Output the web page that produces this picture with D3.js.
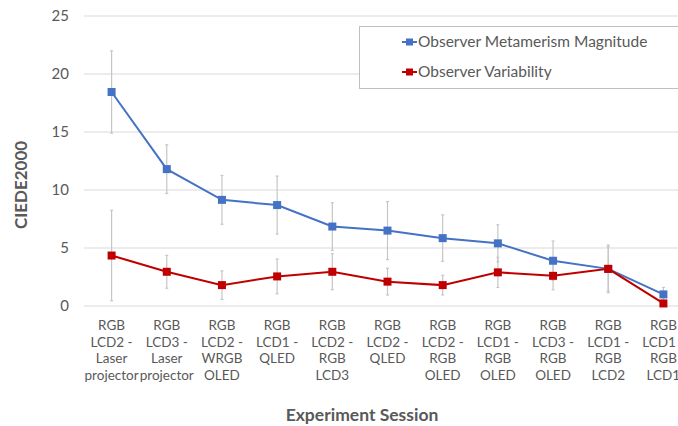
<!DOCTYPE html>
<html><head><meta charset="utf-8">
<script src="https://cdn.jsdelivr.net/npm/d3@7"></script>
<style>body{margin:0;background:#fff}svg{display:block}</style>
</head><body><svg id="c" width="678" height="426"></svg>
<script>
const categories = [
  ["RGB","LCD2 -","Laser","projector"],
  ["RGB","LCD3 -","Laser","projector"],
  ["RGB","LCD2 -","WRGB","OLED"],
  ["RGB","LCD1 -","QLED"],
  ["RGB","LCD2 -","RGB","LCD3"],
  ["RGB","LCD2 -","QLED"],
  ["RGB","LCD2 -","RGB","OLED"],
  ["RGB","LCD1 -","RGB","OLED"],
  ["RGB","LCD3 -","RGB","OLED"],
  ["RGB","LCD1 -","RGB","LCD2"],
  ["RGB","LCD1 -","RGB","LCD1"]
];
const metamerism = [18.45, 11.8, 9.15, 8.7, 6.85, 6.5, 5.85, 5.4, 3.9, 3.2, 1.0];
const metamerismErr = [3.55, 2.1, 2.1, 2.5, 2.05, 2.5, 2.0, 1.6, 1.7, 2.05, 0.6];
const variability = [4.35, 2.95, 1.8, 2.55, 2.95, 2.1, 1.8, 2.9, 2.6, 3.2, 0.22];
const variabilityErr = [3.9, 1.42, 1.23, 1.5, 1.55, 1.15, 0.85, 1.3, 1.2, 1.9, 0.2];
const yTicks = [0, 5, 10, 15, 20, 25];
const seriesNames = ["Observer Metamerism Magnitude", "Observer Variability"];
const colors = ["#4472c4", "#c00000"];

const svg = d3.select("#c");
const x = d3.scaleBand().domain(d3.range(categories.length)).range([84, 691]);
const y = d3.scaleLinear().domain([0, 25]).range([306, 16]);
const cx = i => x(i) + x.bandwidth() / 2;
const font = "Lato, 'Liberation Sans', sans-serif";
const textCol = "#595959";

// gridlines
svg.append("g").selectAll("line").data(yTicks).join("line")
  .attr("x1", 84).attr("x2", 678)
  .attr("y1", d => y(d)).attr("y2", d => y(d))
  .attr("stroke", "#d9d9d9").attr("stroke-width", 1);

// y tick labels
svg.append("g").selectAll("text").data(yTicks).join("text")
  .attr("x", 69).attr("y", d => y(d)).attr("dy", "0.35em")
  .attr("text-anchor", "end").attr("font-family", font).attr("font-size", 15)
  .attr("fill", textCol).text(d => d);

// y title
svg.append("text").attr("transform", "translate(27,185) rotate(-90)")
  .attr("text-anchor", "middle").attr("font-family", font).attr("font-size", 17)
  .attr("font-weight", "bold").attr("fill", textCol).text("CIEDE2000");

// x labels
const xl = svg.append("g").selectAll("text").data(categories).join("text")
  .attr("x", (d, i) => cx(i)).attr("y", 330)
  .attr("text-anchor", "middle").attr("font-family", font).attr("font-size", 13.5)
  .attr("fill", textCol);
xl.selectAll("tspan").data(d => d).join("tspan")
  .attr("x", function () { return d3.select(this.parentNode).attr("x"); })
  .attr("dy", (d, j) => j === 0 ? 0 : 16.6).text(d => d);

// x title
svg.append("text").attr("x", 362).attr("y", 421)
  .attr("text-anchor", "middle").attr("font-family", font).attr("font-size", 17.5)
  .attr("font-weight", "bold").attr("fill", textCol).text("Experiment Session");

// error bars
const errs = [[metamerism, metamerismErr], [variability, variabilityErr]];
errs.forEach(([vals, e]) => {
  const g = svg.append("g").attr("stroke", "#c6c6c6").attr("stroke-width", 1.2);
  vals.forEach((v, i) => {
    const t = y(v + e[i]), b = y(Math.max(0, v - e[i]));
    g.append("line").attr("x1", cx(i)).attr("x2", cx(i)).attr("y1", t).attr("y2", b);
    g.append("line").attr("x1", cx(i) - 1.5).attr("x2", cx(i) + 1.5).attr("y1", t).attr("y2", t);
    g.append("line").attr("x1", cx(i) - 1.5).attr("x2", cx(i) + 1.5).attr("y1", b).attr("y2", b);
  });
});

// lines & markers
const line = d3.line().x((d, i) => cx(i)).y(d => y(d));
[metamerism, variability].forEach((vals, k) => {
  svg.append("path").datum(vals).attr("d", line).attr("fill", "none")
    .attr("stroke", colors[k]).attr("stroke-width", 2);
  svg.append("g").selectAll("rect").data(vals).join("rect")
    .attr("x", (d, i) => cx(i) - 4).attr("y", d => y(d) - 4)
    .attr("width", 8).attr("height", 8).attr("fill", colors[k]);
});

// legend
svg.append("rect").attr("x", 359.5).attr("y", 26.5).attr("width", 330).attr("height", 62)
  .attr("fill", "#fff").attr("stroke", "#bfbfbf").attr("stroke-width", 1);
const leg = svg.append("g").selectAll("g").data(seriesNames).join("g")
  .attr("transform", (d, i) => `translate(402,${42 + i * 30})`);
leg.append("line").attr("x1", 0).attr("x2", 15).attr("stroke", (d, i) => colors[i]).attr("stroke-width", 2);
leg.append("rect").attr("x", 4).attr("y", -3.5).attr("width", 7).attr("height", 7).attr("fill", (d, i) => colors[i]);
leg.append("text").attr("x", 16).attr("dy", "0.35em").attr("font-family", font).attr("font-size", 15.5)
  .attr("fill", textCol).text(d => d);
</script></body></html>
